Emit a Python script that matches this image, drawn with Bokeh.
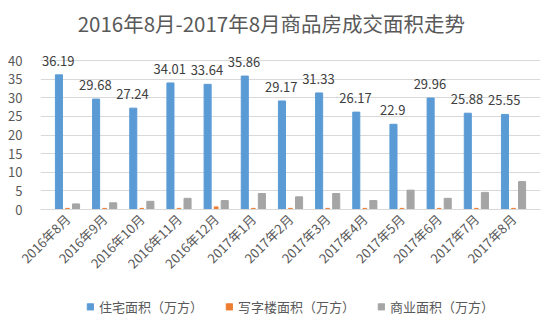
from bokeh.plotting import figure
from bokeh.layouts import column
from bokeh.models import FactorRange, ColumnDataSource, Legend, LegendItem, Range1d, SingleIntervalTicker, Label
from bokeh.transform import dodge
from bokeh.core.properties import value
from bokeh.embed import file_html
from bokeh.resources import INLINE

months = ["2016年8月", "2016年9月", "2016年10月", "2016年11月", "2016年12月",
          "2017年1月", "2017年2月", "2017年3月", "2017年4月", "2017年5月",
          "2017年6月", "2017年7月", "2017年8月"]
residential = [36.19, 29.68, 27.24, 34.01, 33.64, 35.86, 29.17, 31.33, 26.17, 22.9, 29.96, 25.88, 25.55]
office = [0.3, 0.3, 0.3, 0.3, 0.7, 0.3, 0.3, 0.3, 0.3, 0.3, 0.3, 0.3, 0.3]
commercial = [1.5, 1.8, 2.2, 3.0, 2.4, 4.3, 3.4, 4.3, 2.4, 5.2, 3.0, 4.6, 7.5]
series_names = ["住宅面积（万方）", "写字楼面积（万方）", "商业面积（万方）"]
title_text = "2016年8月-2017年8月商品房成交面积走势"
colors = ["#5b9bd5", "#ed7d31", "#a5a5a5"]

FONT = "Noto Sans CJK SC"
TXT = "#595959"

# title strip
tt = figure(width=550, height=40, x_range=Range1d(0, 550), y_range=Range1d(0, 40),
            output_backend="svg", toolbar_location=None,
            x_axis_location=None, y_axis_location=None,
            min_border=0, min_border_left=0, min_border_right=0, min_border_top=0, min_border_bottom=0)
tt.grid.visible = False
tt.outline_line_color = None
tt.add_layout(Label(x=254, y=18, text=title_text, text_align="center", text_baseline="middle",
                    text_font=FONT, text_font_size="20.5px", text_color=TXT))

src = ColumnDataSource(dict(m=months, r=residential, o=office, c=commercial,
                            lbl=[("%g" % v) for v in residential]))

p = figure(width=550, height=241, x_range=FactorRange(*months), y_range=Range1d(0, 43),
           output_backend="svg", toolbar_location=None,
           min_border_left=40, min_border_right=10, min_border_top=9, min_border_bottom=69)

w = 0.19
r1 = p.vbar(x=dodge("m", -0.23, range=p.x_range), top="r", width=w, source=src, color=colors[0])
r2 = p.vbar(x=dodge("m", 0.0, range=p.x_range), top="o", width=0.1, source=src, color=colors[1])
r3 = p.vbar(x=dodge("m", 0.23, range=p.x_range), top="c", width=w, source=src, color=colors[2])

p.text(x=dodge("m", -0.25, range=p.x_range), y="r", text="lbl", source=src,
       text_align="center", text_baseline="bottom", y_offset=-9,
       text_font=value(FONT), text_font_size="13px", text_color="#404040")

p.yaxis.ticker = SingleIntervalTicker(interval=5)
p.yaxis.axis_line_color = None
p.yaxis.major_tick_line_color = None
p.yaxis.major_tick_out = 0
p.yaxis.major_tick_in = 0
p.yaxis.minor_tick_line_color = None
p.yaxis.major_label_standoff = 14
p.yaxis.major_label_text_font = FONT
p.yaxis.major_label_text_font_size = "13px"
p.yaxis.major_label_text_color = TXT

p.xaxis.axis_line_color = "#d9d9d9"
p.xaxis.major_tick_line_color = None
p.xaxis.major_tick_out = 2
p.xaxis.major_label_orientation = 0.785
p.xaxis.major_label_text_font = FONT
p.xaxis.major_label_text_font_size = "13px"
p.xaxis.major_label_text_color = TXT

p.xgrid.grid_line_color = None
p.ygrid.grid_line_color = "#d9d9d9"
p.outline_line_color = None
p.x_range.range_padding_units = "absolute"
p.x_range.range_padding = 0.226
p.x_range.factor_padding = 0

# legend strip
lg = figure(width=550, height=50, x_range=Range1d(0, 1), y_range=Range1d(0, 1),
            output_backend="svg", toolbar_location=None,
            x_axis_location=None, y_axis_location=None,
            min_border=0, min_border_left=0, min_border_right=0, min_border_top=0, min_border_bottom=0)
lg.grid.visible = False
lg.outline_line_color = None
dummy = ColumnDataSource(dict(x=[-5.0], top=[-5.0]))
d1 = lg.vbar(x="x", top="top", width=0.1, source=dummy, color=colors[0])
d2 = lg.vbar(x="x", top="top", width=0.1, source=dummy, color=colors[1])
d3 = lg.vbar(x="x", top="top", width=0.1, source=dummy, color=colors[2])
legend = Legend(items=[LegendItem(label=series_names[0], renderers=[d1]),
                       LegendItem(label=series_names[1], renderers=[d2]),
                       LegendItem(label=series_names[2], renderers=[d3])],
                orientation="horizontal", location="center",
                label_text_font=FONT, label_text_font_size="13px", label_text_color=TXT,
                glyph_width=8, glyph_height=8, spacing=22, label_standoff=5,
                border_line_color=None, background_fill_alpha=0, margin=0, padding=0)
lg.add_layout(legend, "center")

open("out.html", "w").write(file_html(column(tt, p, lg, spacing=0), INLINE))
